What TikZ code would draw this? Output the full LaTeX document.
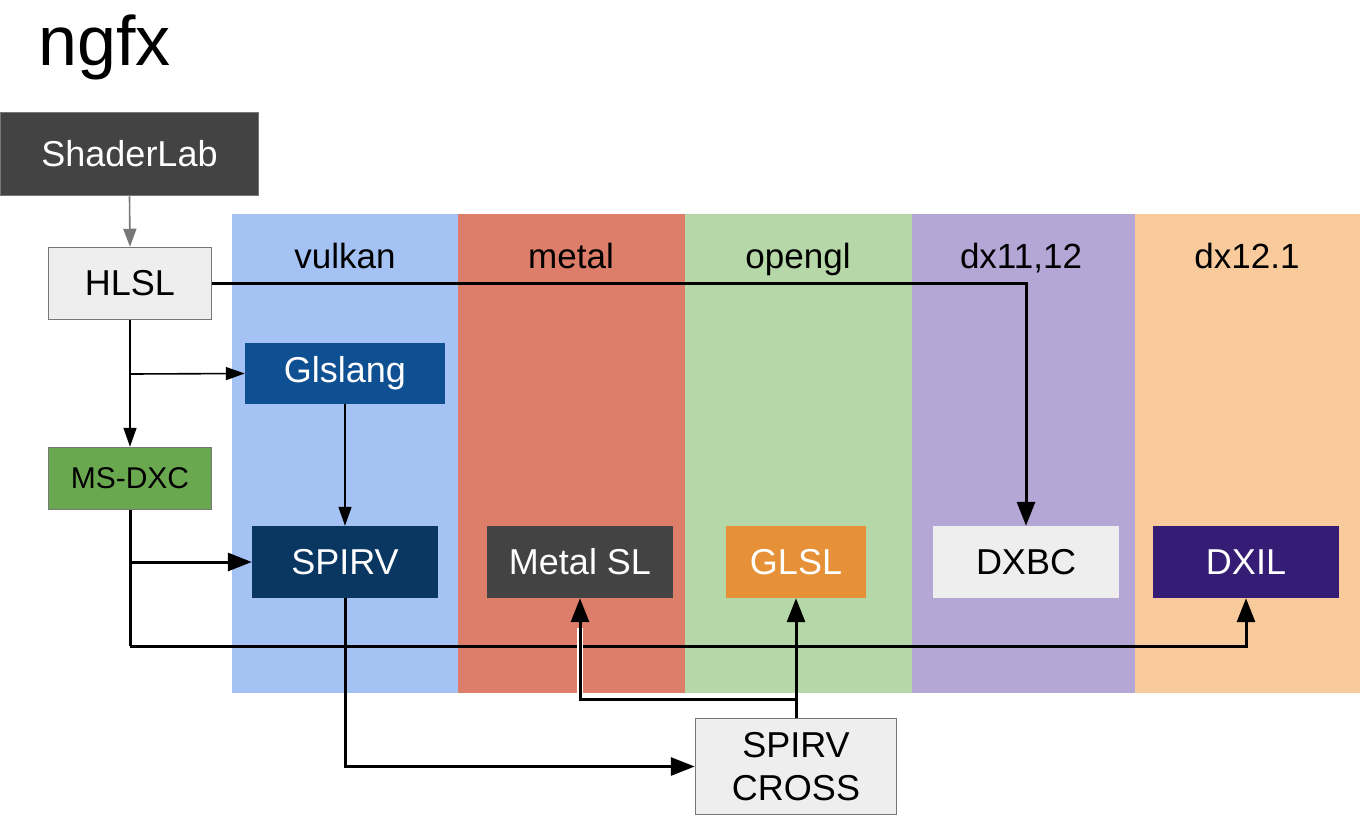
\documentclass[tikz,border=0pt]{standalone}
\usepackage{fontspec}
\setmainfont{Liberation Sans}
\usetikzlibrary{arrows.meta}
\definecolor{cvulkan}{HTML}{A4C2F4}
\definecolor{cmetal}{HTML}{DD7E6B}
\definecolor{copengl}{HTML}{B6D7A8}
\definecolor{cdx}{HTML}{B4A7D6}
\definecolor{cdxx}{HTML}{F9CB9C}
\definecolor{cdark}{HTML}{434343}
\definecolor{clight}{HTML}{EEEEEE}
\definecolor{cborder}{HTML}{777777}
\definecolor{cglslang}{HTML}{0E5092}
\definecolor{cspirv}{HTML}{0A3762}
\definecolor{cgreen}{HTML}{6AA84F}
\definecolor{corange}{HTML}{E69138}
\definecolor{cpurple}{HTML}{351C75}
\tikzset{
  box/.style={rectangle, inner sep=0pt, align=center, font=\fontsize{36}{43}\selectfont},
  bordered/.style={draw=cborder, line width=1.5pt},
  lab/.style={anchor=base, font=\fontsize{35}{40}\selectfont},
  thinarrow/.style={line width=1.6pt, -{Triangle[length=19pt,width=13pt]}},
  thinline/.style={line width=1.6pt},
  thickarrow/.style={line width=3pt, -{Triangle[length=24pt,width=18pt]}},
  thickline/.style={line width=3pt},
  grayarrow/.style={line width=1.6pt, draw=cborder, -{Triangle[length=18pt,width=13pt,fill=cborder]}},
  halo/.style={line width=6pt, draw=white},
}
\begin{document}
\begin{tikzpicture}[x=1pt,y=-1pt]
\useasboundingbox (0,0) rectangle (1360,820);
% bands
\fill[cvulkan] (232,214) rectangle (458,693);
\fill[cmetal] (458,214) rectangle (685,693);
\fill[copengl] (685,214) rectangle (912,693);
\fill[cdx] (912,214) rectangle (1135,693);
\fill[cdxx] (1135,214) rectangle (1360,693);
\node[lab] (lvulkan) at (345,268) {vulkan};
\node[lab] (lmetal) at (571,268) {metal};
\node[lab] (lopengl) at (798,268) {opengl};
\node[lab] (ldx) at (1021,268) {dx11,12};
\node[lab] (ldxx) at (1247,268) {dx12.1};
% title
\node[anchor=base west, inner sep=0pt, font=\fontsize{70}{80}\selectfont] (title) at (38,65) {ngfx};
% nodes
\node[box, bordered, fill=cdark, text=white, minimum width=258pt, minimum height=83pt] (shader) at (129.5,154) {ShaderLab};
\node[box, bordered, fill=clight, minimum width=163pt, minimum height=72pt] (hlsl) at (130,283.5) {HLSL};
\node[box, fill=cglslang, text=white, minimum width=200pt, minimum height=61pt] (glslang) at (345,373.5) {Glslang};
\node[box, bordered, fill=cgreen, minimum width=163pt, minimum height=62pt, font=\fontsize{30}{36}\selectfont] (msdxc) at (130,478.5) {MS-DXC};
\node[box, fill=cspirv, text=white, minimum width=186pt, minimum height=72pt] (spirv) at (345,562) {SPIRV};
\node[box, fill=cdark, text=white, minimum width=186pt, minimum height=72pt] (metal) at (580,562) {Metal SL};
\node[box, fill=corange, text=white, minimum width=140pt, minimum height=72pt] (glsl) at (796,562) {GLSL};
\node[box, fill=clight, minimum width=186pt, minimum height=72pt] (dxbc) at (1026,562) {DXBC};
\node[box, fill=cpurple, text=white, minimum width=186pt, minimum height=72pt] (dxil) at (1246,562) {DXIL};
\node[box, bordered, fill=clight, minimum width=201pt, minimum height=96pt] (cross) at (796,766.5) {SPIRV\\CROSS};
% coordinates
\coordinate (b1) at (130,374);
\coordinate (b2) at (130,562);
\coordinate (c1) at (130,646);
\coordinate (b3) at (796,699);
% connectors
\draw[grayarrow] (shader.south) -- (hlsl.north);
\draw[thinline] (hlsl.south) -- (b1);
\draw[thinarrow] (b1) -- (msdxc.north);
\draw[thinarrow] (b1) -- (glslang.west);
\draw[thinarrow] (glslang.south) -- (spirv.north);
\draw[thickarrow] (hlsl.east) -| (dxbc.north);
\draw[thickline] (msdxc.south) -- (b2);
\draw[thickarrow] (b2) -- (spirv.west);
\draw[thickline] (b2) -- (c1);
\draw[thickarrow] (c1) -| (dxil.south);
\draw[thickarrow] (spirv.south) |- (cross.west);
\draw[halo] (b3) -| ([yshift=-30pt]metal.south);
\draw[thickarrow] (b3) -| (metal.south);
\draw[thickarrow] (cross.north) -- (glsl.south);
\end{tikzpicture}
\end{document}
